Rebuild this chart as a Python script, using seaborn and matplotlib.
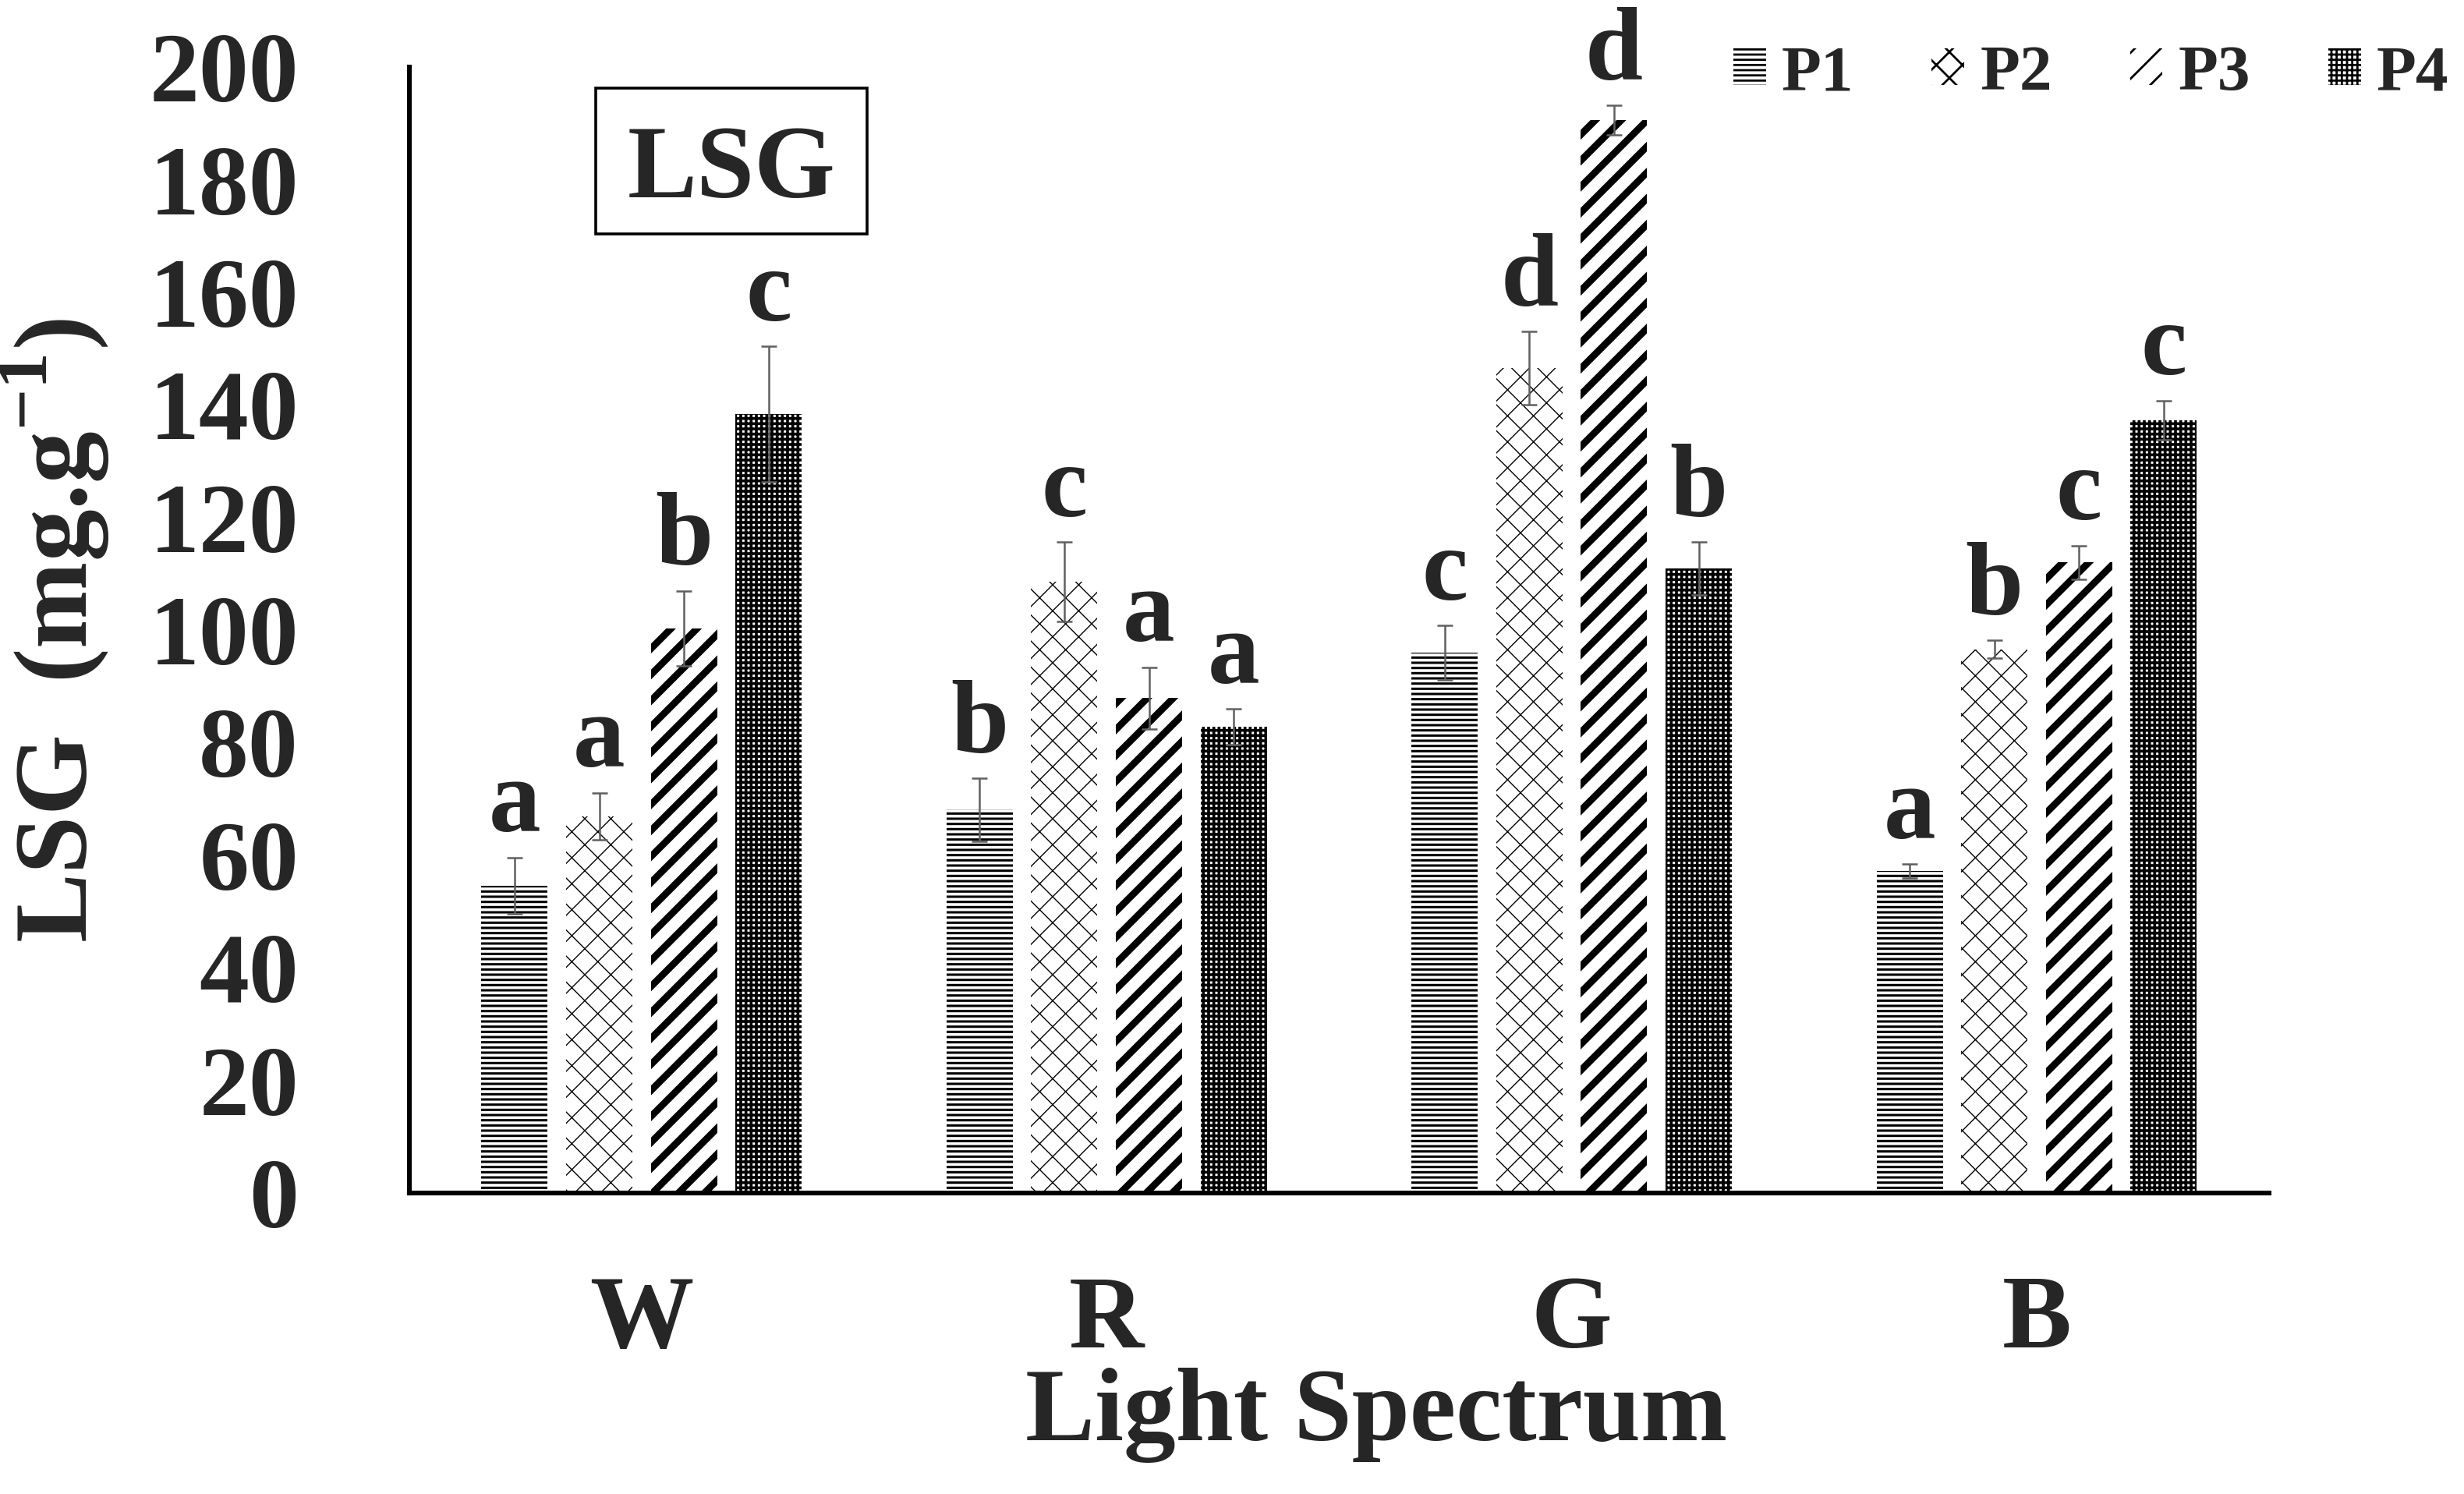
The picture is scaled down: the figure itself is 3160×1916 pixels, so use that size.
import pandas as pd
import seaborn as sns
import matplotlib.pyplot as plt
from matplotlib.patches import Rectangle


spectra = ['W', 'R', 'G', 'B']
treatments = ['P1', 'P2', 'P3', 'P4']

p1 = [54.6, 68.1, 96.0, 57.2]
p2 = [66.9, 108.6, 146.5, 96.6]
p3 = [100.3, 87.9, 190.6, 112.0]
p4 = [138.4, 82.8, 110.9, 137.3]

p1_sd = [5.0, 5.6, 4.8, 1.2]
p2_sd = [4.2, 7.0, 6.5, 1.6]
p3_sd = [6.7, 5.5, 2.6, 3.0]
p4_sd = [12.0, 3.2, 4.7, 3.5]

p1_let = ['a', 'b', 'c', 'a']
p2_let = ['a', 'c', 'd', 'b']
p3_let = ['b', 'a', 'd', 'c']
p4_let = ['c', 'a', 'b', 'c']

yticks = [0, 20, 40, 60, 80, 100, 120, 140, 160, 180, 200]

values = [p1, p2, p3, p4]
sds = [p1_sd, p2_sd, p3_sd, p4_sd]
letters = [p1_let, p2_let, p3_let, p4_let]

rows = []
for t, vals in zip(treatments, values):
    for s, v in zip(spectra, vals):
        rows.append({'Spectrum': s, 'Treatment': t, 'LSG': v})
data = pd.DataFrame(rows)

sns.set_theme(style='white')
plt.rcParams['font.family'] = ['Liberation Serif', 'DejaVu Serif']
plt.rcParams['font.weight'] = 'bold'
plt.rcParams['mathtext.fontset'] = 'custom'
plt.rcParams['mathtext.rm'] = 'Liberation Serif:bold'
plt.rcParams['mathtext.bf'] = 'Liberation Serif:bold'
plt.rcParams['hatch.linewidth'] = 1.0

fig = plt.figure(figsize=(15.8, 9.58), dpi=200)
ax = fig.add_axes([0.166, 0.2015, 0.755, 0.7535])

sns.barplot(data=data, x='Spectrum', y='LSG', hue='Treatment', order=spectra,
            hue_order=treatments, palette=['white'] * 4, errorbar=None,
            width=0.728, gap=0.217, edgecolor='black', linewidth=0,
            legend=False, ax=ax)

hatches = ['-----', 'xx', '//', '+++++']
hatch_lw = [1.1, 0.5, 3.2, 1.3]

bar_conts = list(ax.containers)
for i, cont in enumerate(bar_conts):
    for bar in cont:
        bar.set_hatch(hatches[i])
        try:
            bar.set_hatch_linewidth(hatch_lw[i])
        except AttributeError:
            pass
        cx = bar.get_x() + bar.get_width() / 2
        h = bar.get_height()
        j = int(round(cx))
        sd = sds[i][j]
        ax.errorbar(cx, h, yerr=sd, fmt='none', ecolor='#606060',
                    elinewidth=0.9, capsize=3.6, capthick=0.9, zorder=5)
        ax.annotate(letters[i][j], (cx, h + sd), xytext=(0, 12),
                    textcoords='offset points', ha='center', va='baseline',
                    fontsize=48, fontweight='bold')

ax.set_xlim(-0.5, 3.5)
ax.set_ylim(0, 200)
ax.set_yticks(yticks)
ax.tick_params(axis='both', length=0)
ax.tick_params(axis='y', pad=51, labelsize=46)
ax.tick_params(axis='x', pad=38, labelsize=48)
for lab in ax.get_xticklabels() + ax.get_yticklabels():
    lab.set_fontweight('bold')

for side in ['top', 'right']:
    ax.spines[side].set_visible(False)
for side in ['left', 'bottom']:
    ax.spines[side].set_linewidth(2.2)
    ax.spines[side].set_color('black')

ax.set_ylabel('LSG  (mg.g$^{-1}$)', fontsize=48, fontweight='bold')
ax.yaxis.set_label_coords(-0.16, 0.5)
ax.set_xlabel('Light Spectrum', fontsize=48, fontweight='bold')
ax.xaxis.set_label_coords(0.52, -0.155)
ax.xaxis.label.set_va('top')

# boxed panel label
fig.patches.append(Rectangle((0.2418, 0.8434), 0.1101, 0.0976, transform=fig.transFigure,
                             fill=False, edgecolor='black', linewidth=1.3))
fig.text(0.2968, 0.868, 'LSG', ha='center', va='baseline', fontsize=48, fontweight='bold')

fig.legend(bar_conts, treatments, loc='center right', bbox_to_anchor=(0.9937, 0.95),
           ncol=4, frameon=False, handlelength=0.5, handleheight=0.48,
           handletextpad=0.24, columnspacing=1.2, borderpad=0, borderaxespad=0,
           prop={'weight': 'bold', 'size': 30})

fig.savefig('out.png', dpi=200, facecolor='white')
